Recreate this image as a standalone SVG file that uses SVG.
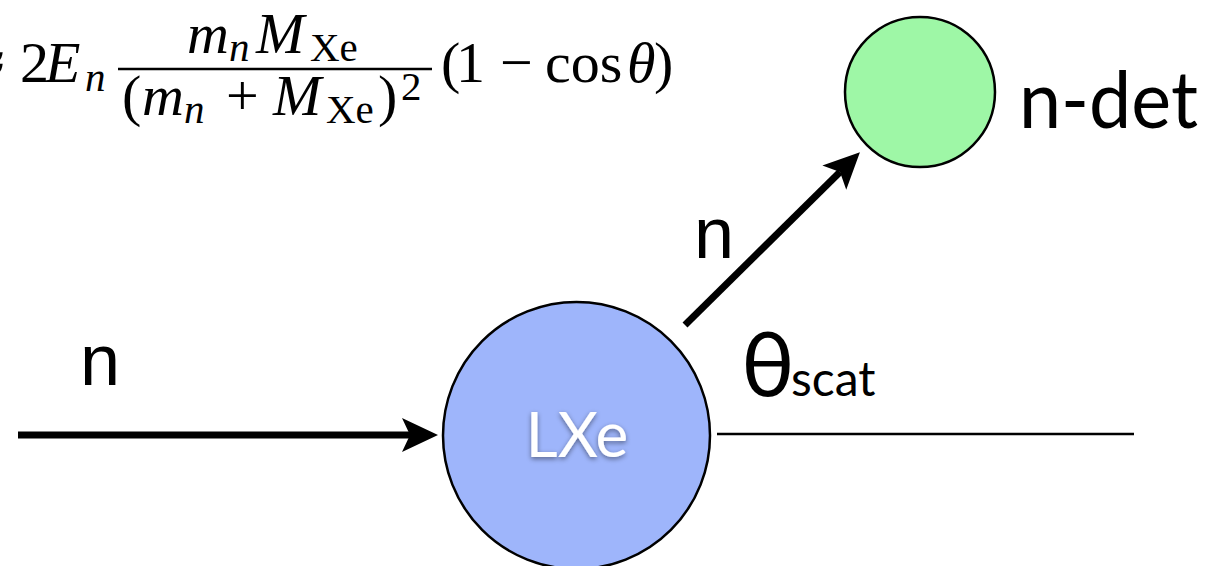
<svg xmlns="http://www.w3.org/2000/svg" width="1228" height="566" viewBox="0 0 1228 566">
<style>
.math{font-family:"Liberation Serif",serif;fill:#000}
.it{font-style:italic}
.lbl{font-family:"Liberation Sans",Arial,sans-serif;fill:#000}
.gill{font-family:Lato,"Open Sans",sans-serif;fill:#000}
.node{stroke:#000;stroke-width:2.5}
</style>
<defs>
<marker id="ah" markerUnits="userSpaceOnUse" viewBox="-10 -20 40 40" refX="0" refY="0" markerWidth="40" markerHeight="40" orient="auto">
<path d="M28,0 L-8,-17 L0,0 L-8,17 Z" fill="#000"/>
</marker>
<filter id="sh" x="-20%" y="-20%" width="140%" height="140%">
<feDropShadow dx="0" dy="2" stdDeviation="2.5" flood-color="#000" flood-opacity="0.45"/>
</filter>
</defs>
<rect width="1228" height="566" fill="#fff"/>

<g id="formula" class="math">
<text y="82" font-size="58"><tspan x="-27">≈</tspan><tspan x="20">2</tspan><tspan x="45" class="it">E</tspan></text>
<text x="85" y="91" font-size="41" class="it">n</text>
<line x1="118" y1="69" x2="432" y2="69" stroke="#000" stroke-width="2.5"/>
<text y="53" font-size="58"><tspan x="187" class="it">m</tspan><tspan x="256" class="it">M</tspan></text>
<text y="61" font-size="41"><tspan x="229" class="it">n</tspan><tspan x="310">Xe</tspan></text>
<text y="115" font-size="58"><tspan x="122">(</tspan><tspan x="142" class="it">m</tspan><tspan x="226">+</tspan><tspan x="273" class="it">M</tspan><tspan x="378">)</tspan></text>
<text y="123" font-size="41"><tspan x="184" class="it">n</tspan><tspan x="326">Xe</tspan></text>
<text x="401" y="100" font-size="41">2</text>
<text y="82" font-size="58"><tspan x="441">(</tspan><tspan x="456">1</tspan><tspan x="500">−</tspan><tspan x="545">cos</tspan><tspan x="627" class="it">θ</tspan><tspan x="654">)</tspan></text>
</g>

<g id="connectors">
<line x1="18" y1="435" x2="410" y2="435" stroke="#000" stroke-width="7" marker-end="url(#ah)"/>
<line x1="685" y1="325" x2="840" y2="172" stroke="#000" stroke-width="7" marker-end="url(#ah)"/>
<line x1="717" y1="434" x2="1134" y2="434" stroke="#000" stroke-width="2.5"/>
</g>

<g id="lxe">
<circle cx="576.5" cy="435.5" r="133.5" fill="#9eb5fb" class="node"/>
<text x="577" y="457" font-size="62" text-anchor="middle" class="gill" style="fill:#fff" filter="url(#sh)">LXe</text>
</g>

<g id="ndet">
<circle cx="920" cy="92" r="75" fill="#9ef7a6" class="node"/>
<text x="1019" y="128" font-size="80" class="gill" textLength="179" lengthAdjust="spacingAndGlyphs">n-det</text>
</g>

<g id="labels">
<text x="80" y="385" font-size="72" class="lbl">n</text>
<text x="694" y="258" font-size="72" class="lbl">n</text>
<text x="741" y="396" font-size="90" class="gill">θ</text>
<text x="791" y="396" font-size="48" class="gill">scat</text>
</g>
</svg>
